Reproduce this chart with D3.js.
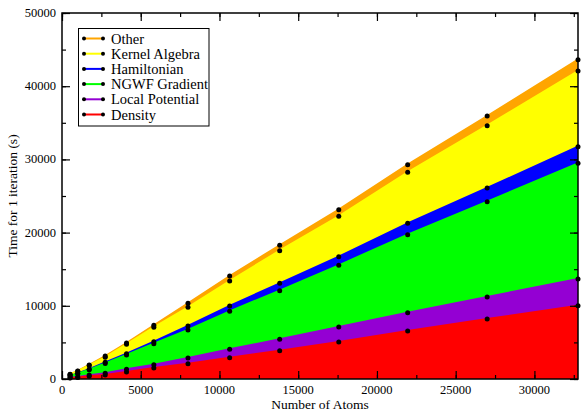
<meta charset="utf-8">
<style>
body { margin: 0; background: #fff; }
text { font-family: "Liberation Serif", "Times New Roman", serif; fill: #000; }
</style>
<body>
<script src="https://d3js.org/d3.v7.min.js"></script>
<script>
// timings per component (s) against system size
var atoms = [512, 1000, 1728, 2744, 4096, 5832, 8000, 10648, 13824, 17576, 21952, 27000, 32768];
var density = [120, 210, 380, 546, 956, 1503, 2090, 2910, 3866, 5055, 6557, 8197, 10014];
var localPotential = [46, 80, 150, 232, 369, 451, 779, 1147, 1557, 2049, 2500, 3005, 3647];
var ngwfGradient = [244, 420, 730, 1340, 1954, 2869, 3825, 5192, 6640, 8429, 10656, 13020, 15806];
var hamiltonian = [22, 40, 70, 160, 177, 273, 546, 724, 1011, 1175, 1557, 1871, 2268];
var kernelAlgebra = [183, 310, 520, 686, 1284, 1967, 2555, 3415, 4453, 5519, 6968, 8511, 10342];
var other = [22, 40, 70, 178, 178, 273, 547, 683, 738, 901, 1038, 1325, 1543];

var seriesNames = ["Density", "Local Potential", "NGWF Gradient", "Hamiltonian", "Kernel Algebra", "Other"];
var seriesValues = [density, localPotential, ngwfGradient, hamiltonian, kernelAlgebra, other];
var seriesColors = ["#ff0000", "#9400d3", "#00ff00", "#0000ff", "#ffff00", "#ffa500"];

var xTicks = [0, 5000, 10000, 15000, 20000, 25000, 30000];
var yTicks = [0, 10000, 20000, 30000, 40000, 50000];

var W = 581, H = 414;
var margin = {top: 13, right: 3, bottom: 35, left: 62};
var width = W - margin.left - margin.right,
    height = H - margin.top - margin.bottom;

var rows = atoms.map(function(a, i) {
  var r = {atoms: a};
  seriesNames.forEach(function(n, j) { r[n] = seriesValues[j][i]; });
  return r;
});

var stacked = d3.stack().keys(seriesNames)(rows);

var x = d3.scaleLinear().domain([0, 32768]).range([0, width]);
var y = d3.scaleLinear().domain([0, 50000]).range([height, 0]);

var svg = d3.select("body").append("svg")
    .attr("width", W)
    .attr("height", H)
  .append("g")
    .attr("transform", "translate(" + margin.left + "," + margin.top + ")");

var area = d3.area()
    .x(function(d) { return x(d.data.atoms); })
    .y0(y(0))
    .y1(function(d) { return y(d[1]); });

var line = d3.line()
    .x(function(d) { return x(d.data.atoms); })
    .y(function(d) { return y(d[1]); });

// draw top series first, each filled down to zero
var layers = stacked.slice().reverse();
layers.forEach(function(s) {
  var c = seriesColors[s.index];
  svg.append("path").datum(s).attr("d", area).attr("fill", c);
  svg.append("path").datum(s).attr("d", line)
      .attr("fill", "none").attr("stroke", c).attr("stroke-width", 2);
});
layers.forEach(function(s) {
  svg.selectAll(null).data(s).enter().append("circle")
      .attr("cx", function(d) { return x(d.data.atoms); })
      .attr("cy", function(d) { return y(d[1]); })
      .attr("r", 2.5)
      .attr("fill", "#000");
});

// axes, ticks pointing inwards on all four sides
var xMinor = d3.range(0, 32768, 2500);
var yMinor = d3.range(0, 50001, 5000);

function tickAxis(axis, ticks, len) {
  return axis.tickValues(ticks).tickSize(len).tickFormat("");
}

svg.append("g").attr("transform", "translate(0," + height + ")")
    .call(tickAxis(d3.axisTop(x), xMinor, 4));
svg.append("g").attr("transform", "translate(0," + height + ")")
    .call(tickAxis(d3.axisTop(x), xTicks, 8));
svg.append("g")
    .call(tickAxis(d3.axisBottom(x), xMinor, 4));
svg.append("g")
    .call(tickAxis(d3.axisBottom(x), xTicks, 8));
svg.append("g")
    .call(tickAxis(d3.axisRight(y), yMinor, 4));
svg.append("g")
    .call(tickAxis(d3.axisRight(y), yTicks, 8));
svg.append("g").attr("transform", "translate(" + width + ",0)")
    .call(tickAxis(d3.axisLeft(y), yMinor, 4));
svg.append("g").attr("transform", "translate(" + width + ",0)")
    .call(tickAxis(d3.axisLeft(y), yTicks, 8));

svg.selectAll(".domain").remove();
svg.selectAll(".tick line").attr("stroke", "#000").attr("stroke-width", 1.2);

svg.append("rect")
    .attr("width", width).attr("height", height)
    .attr("fill", "none").attr("stroke", "#000").attr("stroke-width", 1.5);

// tick labels
svg.selectAll(".xlab").data(xTicks).enter().append("text")
    .attr("x", function(d) { return x(d); })
    .attr("y", height + 15)
    .attr("text-anchor", "middle")
    .style("font-size", "12.5px")
    .text(function(d) { return d; });

svg.selectAll(".ylab").data(yTicks).enter().append("text")
    .attr("x", -6)
    .attr("y", function(d) { return y(d) + 4; })
    .attr("text-anchor", "end")
    .style("font-size", "12.5px")
    .text(function(d) { return d; });

svg.append("text")
    .attr("x", width / 2)
    .attr("y", height + 30)
    .attr("text-anchor", "middle")
    .style("font-size", "13.5px")
    .text("Number of Atoms");

svg.append("text")
    .attr("transform", "translate(" + (-margin.left + 17) + "," + (height / 2) + ") rotate(-90)")
    .attr("text-anchor", "middle")
    .style("font-size", "13.5px")
    .text("Time for 1 iteration (s)");

// legend
var lg = svg.append("g").attr("transform", "translate(" + (-margin.left) + "," + (-margin.top) + ")");
lg.append("rect")
    .attr("x", 78.5).attr("y", 28.5).attr("width", 130.5).attr("height", 97.5)
    .attr("fill", "#fff").attr("stroke", "#000").attr("stroke-width", 1);

layers.forEach(function(s, i) {
  var ly = 38.5 + i * 15.2, c = seriesColors[s.index];
  lg.append("line").attr("x1", 84).attr("x2", 103).attr("y1", ly).attr("y2", ly)
      .attr("stroke", c).attr("stroke-width", 2);
  lg.append("circle").attr("cx", 84).attr("cy", ly).attr("r", 2).attr("fill", "#000");
  lg.append("circle").attr("cx", 103).attr("cy", ly).attr("r", 2).attr("fill", "#000");
  lg.append("text").attr("x", 111).attr("y", ly + 5)
      .style("font-size", "14.5px")
      .text(s.key);
});
</script>
</body>
